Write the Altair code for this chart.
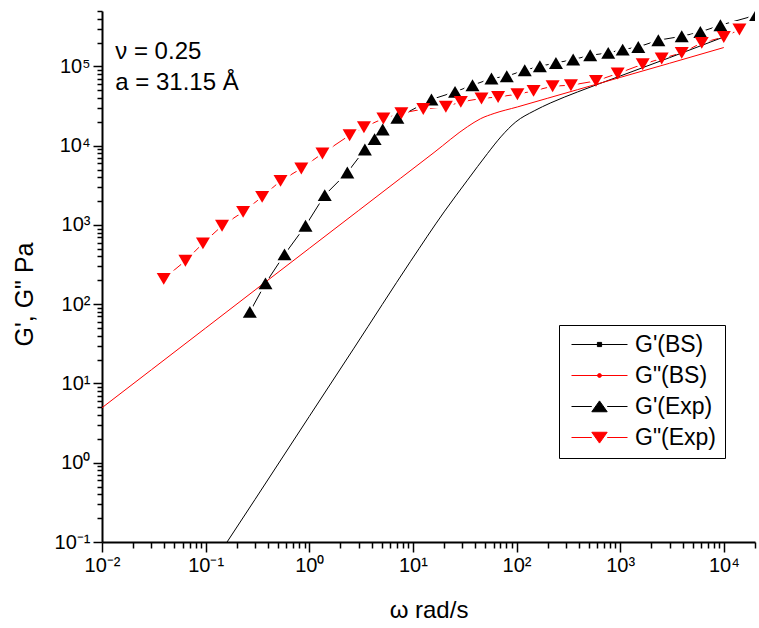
import altair as alt
import pandas as pd

# ---------------- data ----------------
# Model curves (BS)
bs1_w = [0.161, 0.3, 1.0, 2.7, 9.5, 20, 33.6, 52.5, 70.5, 98.4, 148, 214, 388, 1000, 3000, 10000]
bs1_g = [0.1, 0.345, 3.84, 27.9, 348, 1460, 3670, 7980, 12900, 19950, 27500, 34700, 47600, 75600, 129000, 235000]
bs2_w = [0.01, 0.03, 0.1, 0.3, 1, 3, 7.6, 16, 33.6, 45, 60.8, 102, 200, 388, 1000, 3000, 10000]
bs2_g = [4.94, 14.9, 50.0, 151, 506, 1524, 3880, 8200, 17340, 21900, 25500, 30800, 39700, 50900, 72600, 109600, 173000]

# Experimental data
e1_w = [0.267, 0.378, 0.577, 0.92, 1.41, 2.33, 3.44, 4.27, 5.11, 7.08, 15.1, 25.5, 37.6, 57.3,
        80.5, 120, 168, 240, 352, 514, 767, 1057, 1496, 2335, 3927, 5940, 9270, 20500]
e1_g = [80, 183, 425, 975, 2376, 4590, 8950, 12080, 16000, 22500, 38300, 47700, 57900, 70400,
        75200, 89500, 100400, 110600, 122000, 138000, 148000, 163000, 176000, 214000, 240000,
        272000, 331000, 443000]
e2_w = [0.0394, 0.0638, 0.0942, 0.144, 0.230, 0.351, 0.528, 0.838, 1.34, 2.45, 3.37, 5.19, 7.74,
        12.6, 20.8, 29.0, 45.9, 66.4, 102, 146, 223, 335, 584, 946, 1650, 2516, 3927, 6125,
        10000, 14150]
e2_g = [209, 353, 586, 975, 1463, 2262, 3594, 5153, 7980, 13550, 17100, 22000, 25700, 29000,
        31000, 35700, 39400, 41200, 44600, 49100, 56300, 57900, 65600, 81300, 106600, 125900,
        148000, 198000, 235000, 292000]

series = ["G'(BS)", 'G"(BS)', "G'(Exp)", 'G"(Exp)']
colors = ["#000000", "#FF0000", "#000000", "#FF0000"]

ann_text = ["ν = 0.25", "a = 31.15 Å"]
ann_w = [0.01343, 0.01343]
ann_g = [125000, 50900]

x_major_vals = [1e-2, 1e-1, 1e0, 1e1, 1e2, 1e3, 1e4]
y_major_vals = [1e-1, 1e0, 1e1, 1e2, 1e3, 1e4, 1e5]

# ---------------- tables ----------------
bs = pd.concat([
    pd.DataFrame({"w": bs1_w, "g": bs1_g, "series": series[0]}),
    pd.DataFrame({"w": bs2_w, "g": bs2_g, "series": series[1]}),
])
exp = pd.concat([
    pd.DataFrame({"w": e1_w, "g": e1_g, "series": series[2]}),
    pd.DataFrame({"w": e2_w, "g": e2_g, "series": series[3]}),
])
leg_df = pd.DataFrame({"series": series})
ann = pd.DataFrame({"w": ann_w, "g": ann_g, "t": ann_text})

x_minor_vals = [m * 10.0 ** k for k in range(-2, 5) for m in range(2, 10) if m * 10.0 ** k <= 20000]
y_minor_vals = [m * 10.0 ** k for k in range(-1, 6) for m in range(2, 10) if m * 10.0 ** k <= 500000]

FONT = "Liberation Sans"
W, H = 653, 531
xs = alt.Scale(type="log", domain=[0.01, 20000], nice=False)
ys = alt.Scale(type="log", domain=[0.1, 500000], nice=False)
col_scale = alt.Scale(domain=series, range=colors)

UP = "M0,-0.85L1,0.85L-1,0.85Z"
DOWN = "M0,0.85L1,-0.85L-1,-0.85Z"
tri_scale = alt.Scale(domain=series[2:], range=[UP, DOWN])

L_UP = "M-4,0H-1.1M1.1,0H4M0,-0.8L1.1,0.75L-1.1,0.75Z"
L_DOWN = "M-4,0H-1.1M1.1,0H4M0,0.8L1.1,-0.75L-1.1,-0.75Z"
L_SQ = "M-4,0H4M-0.3,-0.3H0.3V0.3H-0.3Z"
L_DOT = "M-4,0H4M-0.28,0A0.28,0.28 0 1,0 0.28,0A0.28,0.28 0 1,0 -0.28,0Z"
leg_shape_scale = alt.Scale(domain=series, range=[L_SQ, L_DOT, L_UP, L_DOWN])

label_expr = ("['10⁻²','10⁻¹','10⁰','10¹','10²','10³','10⁴','10⁵']"
              "[round(log(datum.value)/LN10)+2]")

x_major = alt.Axis(values=x_major_vals, labelExpr=label_expr, tickSize=10, tickWidth=1.5,
                   domainWidth=2, domainColor="black", tickColor="black", grid=False,
                   labelFont=FONT, labelFontSize=20, labelColor="black", labelPadding=3,
                   labelFlush=False, labelOverlap=False,
                   title="ω rad/s", titleFont=FONT, titleFontSize=24, titleFontWeight="normal",
                   titleColor="black", titleBaseline="alphabetic", titleY=75, orient="bottom")
y_major = alt.Axis(values=y_major_vals, labelExpr=label_expr, tickSize=9, tickWidth=1.5,
                   domainWidth=2, domainColor="black", tickColor="black", grid=False,
                   labelFont=FONT, labelFontSize=20, labelColor="black", labelPadding=3,
                   labelFlush=False, labelOverlap=False,
                   title='G\', G" Pa', titleFont=FONT, titleFontSize=25, titleFontWeight="normal",
                   titleColor="black", titleBaseline="alphabetic", titleX=-70, titleY=283,
                   orient="left")
x_minor = alt.Axis(values=x_minor_vals, labels=False, tickSize=6, tickWidth=1.5, domain=False,
                   tickColor="black", grid=False, title=None, orient="bottom")
y_minor = alt.Axis(values=y_minor_vals, labels=False, tickSize=5, tickWidth=1.5, domain=False,
                   tickColor="black", grid=False, title=None, orient="left")

exp_lines = alt.Chart(exp).mark_line(strokeWidth=1, clip=True).encode(
    x=alt.X("w:Q", scale=xs, axis=None),
    y=alt.Y("g:Q", scale=ys, axis=None),
    color=alt.Color("series:N", scale=col_scale, legend=None),
    detail="series:N",
)

halos = alt.Chart(exp).mark_point(filled=True, fill="white", stroke="white", strokeWidth=5,
                                  size=196, opacity=1, clip=True).encode(
    x=alt.X("w:Q", scale=xs, axis=None),
    y=alt.Y("g:Q", scale=ys, axis=None),
    shape=alt.Shape("series:N", scale=tri_scale, legend=None),
)

bs_lines = alt.Chart(bs).mark_line(strokeWidth=1, clip=True, interpolate="monotone").encode(
    x=alt.X("w:Q", scale=xs, axis=x_major),
    y=alt.Y("g:Q", scale=ys, axis=y_major),
    color=alt.Color("series:N", scale=col_scale, legend=None),
    detail="series:N",
)

tris = alt.Chart(exp).mark_point(filled=True, size=196, opacity=1, strokeWidth=0, clip=True).encode(
    x=alt.X("w:Q", scale=xs, axis=x_minor),
    y=alt.Y("g:Q", scale=ys, axis=y_minor),
    shape=alt.Shape("series:N", scale=tri_scale, legend=None),
    color=alt.Color("series:N", scale=col_scale, legend=None),
)

leg = alt.Legend(title=None, orient="none", legendX=457, legendY=314, direction="vertical",
                 padding=8, strokeColor="black", fillColor="white", cornerRadius=0,
                 labelFont=FONT, labelFontSize=23, labelColor="black", labelLimit=300,
                 symbolSize=196, symbolStrokeWidth=1, symbolOffset=21, labelOffset=24,
                 rowPadding=7, symbolOpacity=1)

legend_layer = alt.Chart(leg_df).mark_point(filled=True, opacity=0, size=196, strokeWidth=1).encode(
    fill=alt.Fill("series:N", scale=col_scale, legend=leg),
    stroke=alt.Stroke("series:N", scale=col_scale, legend=leg),
    shape=alt.Shape("series:N", scale=leg_shape_scale, legend=leg),
)

text = alt.Chart(ann).mark_text(align="left", baseline="alphabetic", font=FONT, fontSize=24,
                                color="black").encode(
    x=alt.X("w:Q", scale=xs, axis=None),
    y=alt.Y("g:Q", scale=ys, axis=None),
    text="t:N",
)

chart = alt.layer(exp_lines, halos, bs_lines, tris, legend_layer, text).resolve_axis(
    x="independent", y="independent"
).resolve_scale(shape="independent", fill="independent", stroke="independent").properties(
    width=W, height=H,
    autosize=alt.AutoSizeParams(type="none"),
    padding={"left": 102, "top": 11, "right": 4, "bottom": 86},
    background="white",
).configure_view(stroke="transparent").configure_legend(strokeWidth=1)

chart.save("out.html", embed_options={"renderer": "svg", "actions": False})
